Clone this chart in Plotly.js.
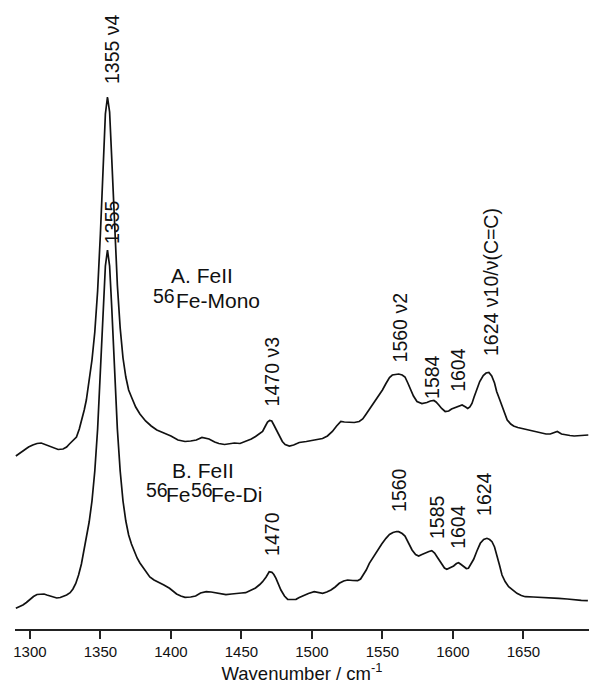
<!DOCTYPE html>
<html>
<head>
<meta charset="utf-8">
<script src="https://cdn.plot.ly/plotly-3.0.1.min.js"></script>
<style>html,body{margin:0;padding:0;background:#fff;}#chart{width:589px;height:685px;}</style>
</head>
<body>
<div id="chart"></div>
<script>
// ---- Data ----
const wavenumberA = [1290,1293,1296.5,1299,1302,1305,1308,1311,1314,1317,1320,1323.5,1326,1328,1331,1333,1335,1337,1338.5,1340,1342,1344,1346,1348,1350,1352,1353.5,1355,1356.5,1358,1360,1362,1364,1366,1368,1370,1372,1375,1378,1382,1386,1390,1395,1400,1405,1410,1414,1418,1422,1427,1431,1434,1438,1441,1445,1449,1453,1457,1460,1463,1465,1467,1468.5,1470,1471.5,1473,1475,1477,1479,1481,1484,1487,1491,1496,1500,1504,1507.5,1511,1514.5,1517.5,1520.5,1523,1526.5,1530,1533.5,1536,1538,1541,1543,1545.5,1548,1550,1552.5,1555,1557,1559,1561.5,1564,1566,1568,1570,1572,1574.5,1578,1581.5,1584,1586.5,1588,1590,1592,1594.5,1597,1599,1603,1606.5,1609,1610.5,1612,1613.5,1615,1617,1619,1621.5,1623.5,1625.5,1627.5,1629.5,1631,1633,1635,1637,1638.5,1641,1643,1646,1649,1653,1656,1660,1663,1666,1669,1672,1674,1677,1680,1683,1686,1689,1692,1696];
const intensityA = [4,7,10,13,15,16.5,17,15.5,14,12,10.5,11,13,16,20,23,31,41,50,60,80,100,128,169,227,299,346,363,348,302,232,175,132,102,83,70,63,53,46,39,34,30,27,24,20,18.5,19,20,22.5,21,18,16.5,15.5,16,17,16.5,18.5,21,23.5,26.5,28.5,34,38,39.5,39,35,29,23,18.5,15.5,14,15,17.5,18.5,19.5,20,21.5,24,28.5,34,38.5,38,37.5,37.5,38.5,41,45,51,55,60,66,70,76.5,82.5,85,85.5,86,85,83,77,70,64,58.5,56.5,57.5,59,59.5,58,55,51.5,48.5,49,51,53.5,55,53,51.5,53,56.5,63,71.5,78.5,84.5,87,87.5,84,77,68.5,61,53,45,40,36,34,32.5,31.5,30.5,29.5,28,26.5,26,26,27.5,28.5,26,25,24.5,24,24.5,25,25];

const wavenumberB = [1290,1292.5,1295,1297.5,1300,1302.5,1305,1307.5,1310,1312,1314,1317,1319,1321.5,1323.5,1326,1328.5,1330.5,1332.5,1334.5,1336.5,1338,1340,1342,1344,1346,1348,1350,1352,1353.5,1355,1356.5,1358,1360,1362,1364,1366,1368,1370,1372,1374,1376,1378,1380.5,1383,1385,1388,1392,1395,1399,1402,1404,1407,1410,1414,1417.5,1421,1425,1428.5,1432,1436,1439,1443,1446,1450,1453,1456,1460,1463,1465,1467.5,1469.7,1471.6,1473,1474.5,1476.5,1478,1480.5,1482.8,1486,1488.7,1491,1493.4,1497.5,1501.6,1504.5,1507.6,1510.5,1513.5,1516.5,1519.4,1522.5,1525.3,1529,1532.4,1534.5,1536,1538.5,1540.7,1543.5,1546.6,1549.5,1552.5,1555,1557.5,1560,1561.5,1564,1566,1568.5,1571,1573.5,1575.7,1578,1580.4,1583,1585,1587,1588.7,1590.5,1592.2,1594,1595.7,1598,1600.5,1602.5,1604,1605.8,1607.6,1609.5,1611,1613,1614.7,1617,1619.4,1621.8,1624.1,1626,1627.7,1629.5,1631.2,1633,1634.8,1637,1639.5,1642.5,1645.4,1648.5,1651.3,1657,1663,1669,1675,1681,1686.7,1691,1695.7];
const intensityB = [1.7,3,5,7.5,10.5,13.5,15.5,16,16,15,14,12.5,12,12.5,13.3,15,17.3,21,26.5,35,46,57,72,88,109,139,181,237,303,344,360,344,303,237,181,139,109,89,75,66,58,52,47,41.5,36.5,33,30,27.3,25,21.7,18.5,16,14,12.7,13,14,17,18.3,18,17.3,16,15.3,16,16.7,17,17.3,19,22,25.5,28.3,33,38.3,37.7,35.5,31.7,25,20,14,10.7,10.5,10.7,12.5,14,16.5,18.3,17.5,16.7,18,20,23,26.7,29,30,29.5,29.3,31,34,40,46.7,53,60,66,71.7,75.5,77.5,78.5,78.3,76.5,74,67,60,55.5,54,55.5,57.3,58.5,59.3,57,53.3,49,45,42,40.7,42,44,46.5,47.3,45.5,43.3,41.5,41.7,46,50.7,59,66.7,70.5,71.7,70.5,68.3,63,55,45,35,28.5,23.3,19.5,16.7,14.5,13.3,13,12.7,12.2,11.7,11,10,9.7,9.3];

const offsetA = 150;   // vertical stacking offset of spectrum A

const tickValues = [1300,1350,1400,1450,1500,1550,1600,1650];
const tickLabels = ['1300','1350','1400','1450','1500','1550','1600','1650'];

const peakTextsA = ['1355 \u03bd4','1470 \u03bd3','1560 \u03bd2','1584','1604','1624 \u03bd10/\u03bd(C=C)'];
const peakTextsB = ['1355','1470','1560','1585','1604','1624'];

// ---- Layout helpers ----
const FONT = 'Liberation Sans, Arial, sans-serif';
const ink = '#111';

// positions of the rotated peak labels (x: wavenumber of label centre, y: bottom of label)
const peakPosA = [[1358.2,525],[1471.6,203],[1562.4,247],[1585.1,210],[1603.5,217],[1627,253]];
const peakPosB = [[1358.2,365],[1471.6,53],[1561.7,97],[1588.7,70],[1603.5,60],[1622,93]];

const annotations = [];
function rotLabel(text, pos) {
  annotations.push({
    text: text, x: pos[0], y: pos[1], xref: 'x', yref: 'y',
    textangle: -90, xanchor: 'center', yanchor: 'bottom', showarrow: false,
    font: {family: FONT, size: 19.5, color: ink}, borderpad: 0
  });
}
peakTextsA.forEach((t, i) => rotLabel(t, peakPosA[i]));
peakTextsB.forEach((t, i) => rotLabel(t, peakPosB[i]));

function plainLabel(text, x, y, xanchor, size) {
  annotations.push({
    text: text, x: x, y: y, xref: 'x', yref: 'y',
    xanchor: xanchor, yanchor: 'middle', showarrow: false,
    font: {family: FONT, size: size, color: ink}, borderpad: 0
  });
}
plainLabel('A. FeII', 1422.3, 334.5, 'center', 21);
plainLabel('56', 1386.3, 314.5, 'left', 19.5);
plainLabel('Fe-Mono', 1402.8, 310, 'left', 21);
plainLabel('B. FeII', 1422.7, 139.5, 'center', 21);
plainLabel('56', 1381.3, 120.5, 'left', 19.5);
plainLabel('Fe', 1396.0, 115.5, 'left', 21);
plainLabel('56', 1413.3, 120.5, 'left', 19.5);
plainLabel('Fe-Di', 1427.9, 115.5, 'left', 21);

const traceA = {
  x: wavenumberA, y: intensityA.map(v => v + offsetA),
  type: 'scatter', mode: 'lines', line: {color: ink, width: 1.7}, hoverinfo: 'skip'
};
const traceB = {
  x: wavenumberB, y: intensityB,
  type: 'scatter', mode: 'lines', line: {color: ink, width: 1.7}, hoverinfo: 'skip'
};

const layout = {
  width: 589, height: 685,
  margin: {l: 15, r: 0, t: 0, b: 56},
  paper_bgcolor: '#fff', plot_bgcolor: '#fff',
  showlegend: false,
  xaxis: {
    range: [1289.4, 1696.5],
    showgrid: false, zeroline: false,
    showline: true, linecolor: '#222', linewidth: 2,
    ticks: 'outside', ticklen: 8, tickwidth: 2, tickcolor: '#222',
    tickmode: 'array', tickvals: tickValues, ticktext: tickLabels,
    tickfont: {family: FONT, size: 15, color: ink},
    title: {text: 'Wavenumber / cm<sup>-1</sup>', font: {family: FONT, size: 18.5, color: ink}, standoff: 2},
    automargin: false, fixedrange: true
  },
  yaxis: {
    range: [-19, 610], visible: false, showgrid: false, zeroline: false, fixedrange: true
  },
  annotations: annotations
};

Plotly.newPlot('chart', [traceA, traceB], layout, {displayModeBar: false, staticPlot: true});
</script>
</body>
</html>
